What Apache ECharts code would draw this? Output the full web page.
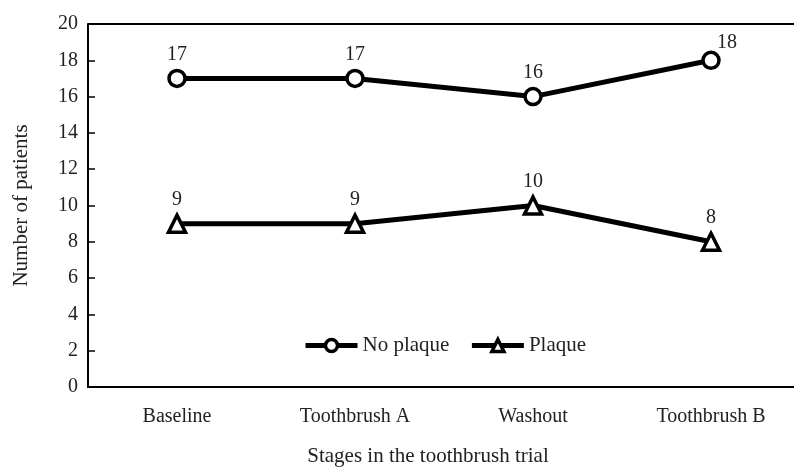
<!DOCTYPE html>
<html>
<head>
<meta charset="utf-8">
<script src="https://cdn.jsdelivr.net/npm/echarts@6/dist/echarts.min.js"></script>
<style>
html, body { margin: 0; padding: 0; background: #fff; }
#main { width: 794px; height: 470px; }
</style>
</head>
<body>
<div id="main"></div>
<script>
// data
var stages = ['Baseline', 'Toothbrush A', 'Washout', 'Toothbrush B'];
var noPlaque = [17, 17, 16, 18];
var plaque = [9, 9, 10, 8];
var yTicks = [0, 2, 4, 6, 8, 10, 12, 14, 16, 18, 20];

var chart = echarts.init(document.getElementById('main'));
var font = 'Liberation Serif, Times New Roman, serif';

// the last "No plaque" label sits up and to the right of its point
var noPlaqueData = noPlaque.map(function (v, i) {
    if (i === noPlaque.length - 1) {
        return { value: v, label: { offset: [16, 6] } };
    }
    return v;
});

var option = {
    animation: false,
    textStyle: { fontFamily: font },
    grid: {
        left: 88,
        top: 24,
        width: 712,
        height: 363,
        outerBoundsMode: 'none'
    },
    legend: {
        left: 298,
        top: 330,
        itemWidth: 52,
        itemHeight: 15,
        itemGap: 20,
        lineStyle: { width: 5, color: '#000' },
        itemStyle: { color: '#fff', borderColor: '#000', borderWidth: 3.5 },
        textStyle: { fontFamily: font, fontSize: 21, color: '#222' },
        data: ['No plaque', 'Plaque']
    },
    xAxis: {
        type: 'category',
        data: stages,
        boundaryGap: true,
        name: 'Stages in the toothbrush trial',
        nameLocation: 'middle',
        nameGap: 59,
        nameTextStyle: { fontFamily: font, fontSize: 21, color: '#222', padding: [0, 32, 0, 0] },
        axisLine: { lineStyle: { color: '#000', width: 2 } },
        axisTick: { alignWithLabel: true, inside: true, length: 6, lineStyle: { color: '#000', width: 1.5 } },
        axisLabel: { fontFamily: font, fontSize: 20, color: '#222', margin: 20 }
    },
    yAxis: {
        type: 'value',
        min: 0,
        max: 20,
        interval: 2,
        name: 'Number of patients',
        nameLocation: 'middle',
        nameGap: 56,
        nameRotate: 90,
        nameTextStyle: { fontFamily: font, fontSize: 21, color: '#222' },
        axisLine: { show: true, lineStyle: { color: '#000', width: 2 } },
        axisTick: { show: true, inside: true, length: 7, lineStyle: { color: '#000', width: 1.5 } },
        axisLabel: {
            fontFamily: font, fontSize: 20, color: '#222', margin: 10,
            formatter: function (v) { return yTicks.indexOf(v) >= 0 ? String(v) : ''; }
        },
        splitLine: { show: false }
    },
    series: [
        {
            name: 'No plaque',
            type: 'line',
            data: noPlaqueData,
            symbol: 'circle',
            symbolSize: 16,
            itemStyle: { color: '#fff', borderColor: '#000', borderWidth: 3.5 },
            lineStyle: { color: '#000', width: 5 },
            label: {
                show: true, position: 'top', distance: 4,
                fontFamily: font, fontSize: 20, color: '#222'
            }
        },
        {
            name: 'Plaque',
            type: 'line',
            data: plaque,
            symbol: 'triangle',
            symbolSize: 17,
            itemStyle: { color: '#fff', borderColor: '#000', borderWidth: 3.5 },
            lineStyle: { color: '#000', width: 5 },
            label: {
                show: true, position: 'top', distance: 4,
                fontFamily: font, fontSize: 20, color: '#222'
            }
        }
    ],
    graphic: [
        // top frame line
        { type: 'line', shape: { x1: 88, y1: 24, x2: 794, y2: 24 }, style: { stroke: '#000', lineWidth: 2 } }
    ]
};

chart.setOption(option);
</script>
</body>
</html>
